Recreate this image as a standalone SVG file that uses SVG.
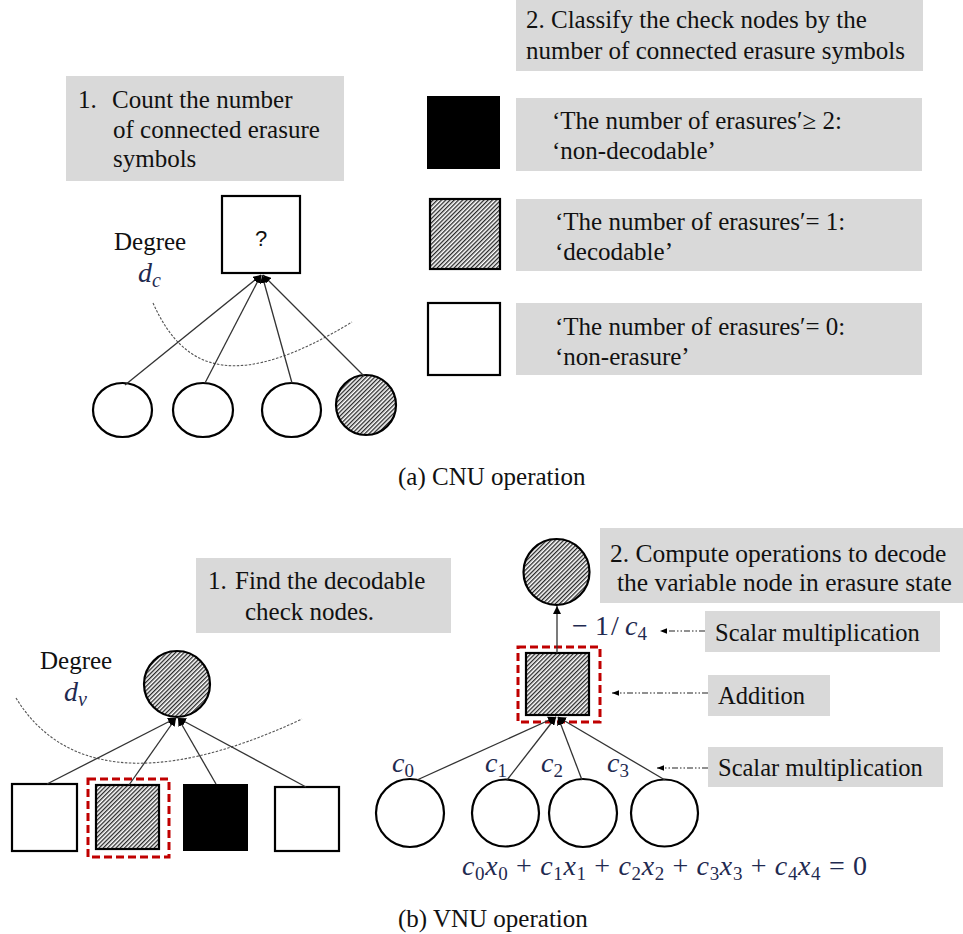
<svg xmlns="http://www.w3.org/2000/svg" width="963" height="934" viewBox="0 0 963 934">
<style>
.t{font-family:"Liberation Serif","Times New Roman",serif;font-size:25px;fill:#111}
.m{font-family:"Liberation Serif","Times New Roman",serif;font-style:italic;fill:#1f2a50}
.mu{font-family:"Liberation Serif","Times New Roman",serif;font-style:normal;fill:#1f2a50}
.box{fill:#d9d9d9}
.node{stroke:#000;stroke-width:2.2}
.white{fill:#fff}
.hatch{fill:url(#hp)}
.edge{stroke:#333;stroke-width:1.3;fill:none}
.curve{stroke:#555;stroke-width:1.1;fill:none;stroke-dasharray:2.5 1.5}
.red{fill:none;stroke:#c00000;stroke-width:3;stroke-dasharray:8 4}
.ptr{stroke:#222;stroke-width:1.2;fill:none;stroke-dasharray:6 2 1.5 2 1.5 2}
</style>
<defs>
<pattern id="hp" patternUnits="userSpaceOnUse" width="3" height="3" patternTransform="rotate(45)">
<rect width="3" height="3" fill="#fff"/>
<line x1="0.7" y1="0" x2="0.7" y2="3" stroke="#111" stroke-width="1.2"/>
</pattern>
<marker id="ah" viewBox="0 0 10 10" refX="10" refY="5" markerWidth="8" markerHeight="8" orient="auto" markerUnits="userSpaceOnUse">
<path d="M0,0 L10,5 L0,10 z" fill="#000"/>
</marker>
<marker id="ap" viewBox="0 0 10 10" refX="10" refY="5" markerWidth="7" markerHeight="7" orient="auto" markerUnits="userSpaceOnUse">
<path d="M0,1 L10,5 L0,9 z" fill="#000"/>
</marker>
</defs>
<rect width="963" height="934" fill="#fff"/>

<!-- (a) CNU -->
<g id="a-step1">
<rect class="box" x="66" y="76" width="278" height="105"/>
<text class="t" y="108"><tspan x="78">1.</tspan><tspan x="112">Count the number</tspan></text>
<text class="t" x="113" y="138">of connected erasure</text>
<text class="t" x="113" y="167">symbols</text>
</g>
<g id="a-step2">
<rect class="box" x="516" y="0" width="407" height="71"/>
<text class="t" x="526" y="28">2. Classify  the check nodes by the</text>
<text class="t" x="526" y="59">number of connected erasure symbols</text>
</g>
<g id="a-check">
<rect class="node white" x="222" y="196" width="78" height="77"/>
<text x="261" y="246" text-anchor="middle" style="font-family:'Liberation Sans',Arial,sans-serif;font-size:22px;fill:#111">?</text>
</g>
<g id="a-degree">
<text class="t" x="114" y="250">Degree</text>
<text class="m" x="138" y="282" style="font-size:28px">d<tspan class="m" dy="5" style="font-size:20px">c</tspan></text>
</g>
<g id="a-v1"><ellipse class="node white" cx="122.5" cy="410" rx="29.5" ry="27"/></g>
<g id="a-v2"><ellipse class="node white" cx="203" cy="410" rx="30" ry="27"/></g>
<g id="a-v3"><ellipse class="node white" cx="291.5" cy="410" rx="29.5" ry="27"/></g>
<g id="a-v4"><circle class="node hatch" cx="366" cy="405" r="30"/></g>

<g id="legend-nondecodable">
<rect x="427" y="96" width="73" height="73" fill="#000"/>
<rect class="box" x="516" y="98" width="406" height="73"/>
<text class="t" x="552" y="129">‘The number of erasures′≥ 2:</text>
<text class="t" x="552" y="159">‘non-decodable’</text>
</g>
<g id="legend-decodable">
<rect class="node hatch" x="430" y="199" width="70" height="70"/>
<rect class="box" x="516" y="199" width="406" height="72"/>
<text class="t" x="555" y="230">‘The number of erasures′= 1:</text>
<text class="t" x="555" y="260">‘decodable’</text>
</g>
<g id="legend-nonerasure">
<rect class="node white" x="428" y="303" width="72" height="72"/>
<rect class="box" x="516" y="303" width="406" height="72"/>
<text class="t" x="555" y="335">‘The number of erasures′= 0:</text>
<text class="t" x="555" y="365">‘non-erasure’</text>
</g>
<text class="t" x="398" y="485">(a) CNU operation</text>

<!-- (b) VNU -->
<g id="b-step1">
<rect class="box" x="196" y="558" width="255" height="75"/>
<text class="t" y="589"><tspan x="208">1.</tspan><tspan x="235">Find the decodable</tspan></text>
<text class="t" x="245" y="620">check nodes.</text>
</g>
<g id="b-var">
<circle class="node hatch" cx="177" cy="684" r="33"/>
</g>
<g id="b-degree">
<text class="t" x="40" y="669">Degree</text>
<text class="m" x="64" y="701" style="font-size:28px">d<tspan class="m" dy="5" style="font-size:20px">v</tspan></text>
</g>
<g id="b-c1"><rect class="node white" x="12" y="784" width="65" height="67"/></g>
<g id="b-c2">
<rect class="node hatch" x="96" y="785" width="63" height="64"/>
<rect class="red" x="88" y="779" width="81" height="78"/>
</g>
<g id="b-c3"><rect x="183" y="784" width="65" height="67" fill="#000"/></g>
<g id="b-c4"><rect class="node white" x="275" y="787" width="64" height="64"/></g>

<g id="b-step2">
<rect class="box" x="600" y="528" width="363" height="75"/>
<text class="t" x="610" y="562" style="font-size:25.5px">2. Compute operations to decode</text>
<text class="t" x="617" y="591" style="font-size:25.5px">the variable node in erasure state</text>
</g>
<g id="b-target"><circle class="node hatch" cx="556.5" cy="572" r="33"/></g>
<g id="b-add">
<rect class="node hatch" x="526" y="653" width="63" height="62"/>
<rect class="red" x="518" y="647" width="82" height="75"/>
</g>
<g id="b-x0"><circle class="node white" cx="410" cy="813" r="34"/></g>
<g id="b-x1"><circle class="node white" cx="505.5" cy="813" r="33.5"/></g>
<g id="b-x2"><circle class="node white" cx="583" cy="813" r="34"/></g>
<g id="b-x3"><circle class="node white" cx="664.5" cy="813" r="33.5"/></g>

<g id="b-label-scalar1">
<rect class="box" x="705" y="611" width="235" height="41"/>
<text class="t" x="715" y="641" style="font-size:24.5px">Scalar multiplication</text>
</g>
<g id="b-label-add">
<rect class="box" x="708" y="675" width="122" height="41"/>
<text class="t" x="718" y="704" style="font-size:24.5px">Addition</text>
</g>
<g id="b-label-scalar2">
<rect class="box" x="708" y="747" width="235" height="40"/>
<text class="t" x="718" y="776" style="font-size:24.5px">Scalar multiplication</text>
</g>

<g id="b-math">
<text class="mu" y="635" style="font-size:28px"><tspan x="572">−</tspan><tspan x="595">1</tspan><tspan x="611">/</tspan><tspan class="m" x="625">c</tspan><tspan dy="5" style="font-size:19px">4</tspan></text>
<text class="m" x="392" y="772" style="font-size:28px">c<tspan class="mu" dy="5" style="font-size:19px">0</tspan></text>
<text class="m" x="485" y="772" style="font-size:28px">c<tspan class="mu" dy="5" style="font-size:19px">1</tspan></text>
<text class="m" x="541" y="772" style="font-size:28px">c<tspan class="mu" dy="5" style="font-size:19px">2</tspan></text>
<text class="m" x="607" y="772" style="font-size:28px">c<tspan class="mu" dy="5" style="font-size:19px">3</tspan></text>
<text class="m" x="462" y="875" style="font-size:28px" textLength="405" lengthAdjust="spacing">c<tspan class="mu" dy="5" style="font-size:19px">0</tspan><tspan dy="-5">x</tspan><tspan class="mu" dy="5" style="font-size:19px">0</tspan><tspan class="mu" dy="-5"> + </tspan><tspan>c</tspan><tspan class="mu" dy="5" style="font-size:19px">1</tspan><tspan dy="-5">x</tspan><tspan class="mu" dy="5" style="font-size:19px">1</tspan><tspan class="mu" dy="-5"> + </tspan><tspan>c</tspan><tspan class="mu" dy="5" style="font-size:19px">2</tspan><tspan dy="-5">x</tspan><tspan class="mu" dy="5" style="font-size:19px">2</tspan><tspan class="mu" dy="-5"> + </tspan><tspan>c</tspan><tspan class="mu" dy="5" style="font-size:19px">3</tspan><tspan dy="-5">x</tspan><tspan class="mu" dy="5" style="font-size:19px">3</tspan><tspan class="mu" dy="-5"> + </tspan><tspan>c</tspan><tspan class="mu" dy="5" style="font-size:19px">4</tspan><tspan dy="-5">x</tspan><tspan class="mu" dy="5" style="font-size:19px">4</tspan><tspan class="mu" dy="-5"> = 0</tspan></text>
</g>
<text class="t" x="398" y="927">(b) VNU operation</text>

<g id="connectors">
<path class="curve" d="M153,303 C185,375 240,390 352,322"/>
<line class="edge" x1="125" y1="385" x2="261" y2="275" marker-end="url(#ah)"/>
<line class="edge" x1="205" y1="383" x2="261" y2="275" marker-end="url(#ah)"/>
<line class="edge" x1="292" y1="383" x2="262" y2="275" marker-end="url(#ah)"/>
<line class="edge" x1="364" y1="376" x2="263" y2="275" marker-end="url(#ah)"/>

<path class="curve" d="M16,698 C60,770 150,790 302,719"/>
<line class="edge" x1="47" y1="784" x2="176" y2="718" marker-end="url(#ah)"/>
<line class="edge" x1="129" y1="785" x2="176" y2="718" marker-end="url(#ah)"/>
<line class="edge" x1="216" y1="784" x2="178" y2="718" marker-end="url(#ah)"/>
<line class="edge" x1="306" y1="787" x2="178" y2="718" marker-end="url(#ah)"/>

<line class="edge" x1="557" y1="653" x2="557" y2="606" marker-end="url(#ah)"/>
<line class="edge" x1="417" y1="780" x2="556" y2="717" marker-end="url(#ah)"/>
<line class="edge" x1="507" y1="780" x2="556" y2="717" marker-end="url(#ah)"/>
<line class="edge" x1="582" y1="780" x2="558" y2="717" marker-end="url(#ah)"/>
<line class="edge" x1="665" y1="780" x2="558" y2="717" marker-end="url(#ah)"/>

<line class="ptr" x1="705" y1="631" x2="660" y2="631" marker-end="url(#ap)"/>
<line class="ptr" x1="708" y1="693" x2="612" y2="693" marker-end="url(#ap)"/>
<line class="ptr" x1="708" y1="768" x2="657" y2="768" marker-end="url(#ap)"/>
</g>
</svg>
